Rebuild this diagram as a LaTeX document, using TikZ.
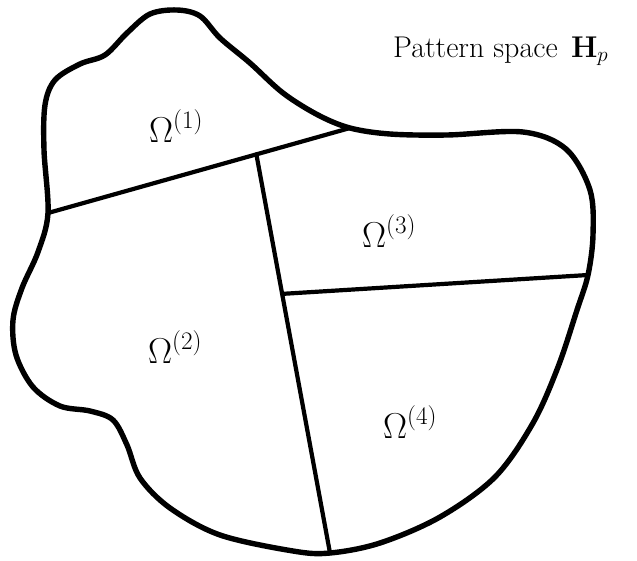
\RequirePackage{fix-cm}
\documentclass[tikz,border=0pt]{standalone}
\usetikzlibrary{calc}
\begin{document}
\begin{tikzpicture}[x=1pt,y=-1pt,
  region/.style={font=\fontsize{36}{40}\selectfont, anchor=base west, inner sep=0pt},
  border/.style={line width=5.4pt, line join=round},
  cut/.style={line width=4.2pt, line cap=round}]
  \useasboundingbox (0,0) rectangle (637,560);
  % points where the cuts meet the border
  \coordinate (A) at (48,213);
  \coordinate (B) at (350,128);
  \coordinate (C) at (588,275);
  \coordinate (D) at (330,553);
  \draw[border] plot[smooth cycle, tension=0.55] coordinates {
    (A) (44,150) (45,105) (55,80) (80,64) (105,55) (127,33)
    (150,14) (177,10) (200,16) (220,38) (250,63) (283,93)
    (318,115) (B) (390,134) (447,135) (523,132) (566,149)
    (590,190) (593,235) (C) (577,310) (558,367) (533,423)
    (495,477) (440,517) (380,543) (D) (293,551) (220,535)
    (170,508) (140,478) (127,445) (113,420) (90,411) (60,406)
    (33,387) (16,355) (13,320) (22,288) (38,252)};
  % cuts
  \coordinate (E) at ($(A)!0.69!(B)$);
  \coordinate (F) at ($(E)!0.35!(D)$);
  \draw[cut] (A) -- (B);
  \draw[cut] (E) -- (D);
  \draw[cut] (F) -- (C);
  % regions
  \node[region] (om1) at (149,142) {$\Omega^{(1)}$};
  \node[region] (om2) at (148,363) {$\Omega^{(2)}$};
  \node[region] (om3) at (362,247) {$\Omega^{(3)}$};
  \node[region] (om4) at (383,438) {$\Omega^{(4)}$};
  \node[font=\fontsize{30}{34}\selectfont, anchor=base west, inner sep=0pt] (title)
    at (393,57) {Pattern space\;\,$\mathbf{H}_p$};
\end{tikzpicture}
\end{document}
